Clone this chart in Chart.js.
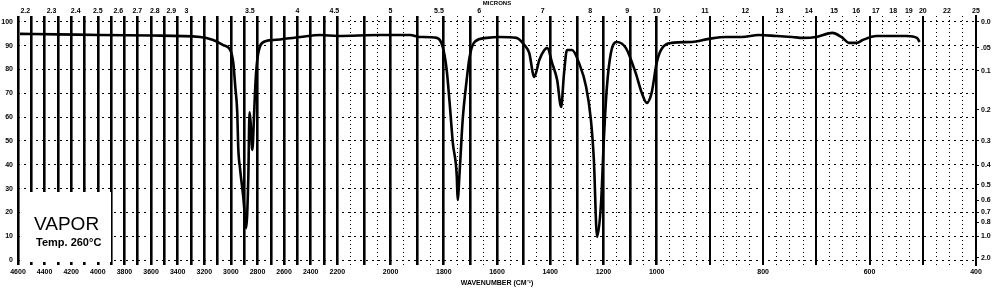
<!DOCTYPE html>
<html>
<head>
<meta charset="utf-8">
<script src="https://cdn.jsdelivr.net/npm/chart.js@4/dist/chart.umd.min.js"></script>
<style>
  body { margin: 0; background: #fff; }
  canvas { display: block; }
</style>
</head>
<body>
<canvas id="irChart" width="1000" height="290"></canvas>
<script>
// --- data (wavenumber cm-1 / % transmittance) ---
const wavenumbers = [4585, 4300, 3983, 3600, 3231, 3133, 3058, 3005, 2982, 2967, 2952, 2945, 2930, 2907, 2892, 2885,
  2869, 2860, 2852, 2839, 2825, 2817, 2802, 2764, 2681, 2478, 2328, 2200, 2039, 1927, 1890, 1826, 1804, 1789, 1778,
  1766, 1751, 1748, 1740, 1729, 1714, 1703, 1684, 1639, 1591, 1527, 1497, 1479, 1460, 1441, 1422, 1411, 1393, 1374,
  1359, 1348, 1337, 1318, 1292, 1265, 1247, 1236, 1224, 1209, 1198, 1187, 1172, 1150, 1116, 1079, 1056, 1037, 1019,
  1000, 992, 972, 934, 902, 870, 840, 808, 775, 745, 726, 700, 670, 653, 638, 624, 613, 587, 557, 530, 511, 506];
const transmittance = [95.0, 94.8, 94.5, 94.3, 93.7, 92.4, 90.3, 88.2, 82.8, 72.7, 61.8, 47.5, 37.8, 26.5, 16.8, 13.4,
  35.0, 62.0, 58.0, 46.2, 62.0, 72.7, 84.0, 91.2, 92.4, 93.7, 94.5, 94.1, 94.5, 94.5, 93.7, 93.3, 89.5, 79.8, 66.0,
  49.2, 34.9, 25.2, 37.8, 58.8, 75.6, 85.3, 91.6, 93.3, 93.7, 93.3, 90.3, 87.0, 76.9, 84.0, 88.2, 89.1, 82.8, 75.6,
  64.3, 78.6, 88.2, 88.2, 82.8, 72.7, 58.8, 42.0, 9.7, 23.9, 51.7, 72.7, 87.0, 91.6, 89.1, 78.6, 70.2, 66.0, 70.2,
  82.8, 88.2, 91.2, 91.6, 92.9, 93.7, 93.7, 94.5, 94.1, 93.7, 93.3, 93.7, 95.4, 93.7, 91.2, 91.2, 92.4, 94.1, 94.1,
  94.1, 93.3, 91.6];

// axis labels
const wavenumberTicks = [4600, 4400, 4200, 4000, 3800, 3600, 3400, 3200, 3000, 2800, 2600, 2400, 2200,
  2000, 1800, 1600, 1400, 1200, 1000, 800, 600, 400];
const micronTicks = [2.2, 2.3, 2.4, 2.5, 2.6, 2.7, 2.8, 2.9, 3, 3.5, 4, 4.5, 5, 5.5, 6, 7, 8, 9, 10,
  11, 12, 13, 14, 15, 16, 17, 18, 19, 20, 22, 25];
const percentTicks = [0, 10, 20, 30, 40, 50, 60, 70, 80, 90, 100];
const absorbanceTicks = [0, 0.05, 0.1, 0.2, 0.3, 0.4, 0.5, 0.6, 0.7, 0.8, 1.0, 2.0];
const absorbanceLabels = ['0.0', '.05', '0.1', '0.2', '0.3', '0.4', '0.5', '0.6', '0.7', '0.8', '1.0', '2.0'];

// chart paper: 3 equal-width panels with different cm-1 scale
const SEGMENTS = [[4600, 2200], [2200, 1000], [1000, 400]];

function waveToFrac(wn) {
  for (let i = 0; i < SEGMENTS.length; i++) {
    const a = SEGMENTS[i][0], b = SEGMENTS[i][1];
    if (wn >= b || i === SEGMENTS.length - 1) return (i + (a - wn) / (a - b)) / SEGMENTS.length;
  }
}
function fracToWave(f) {
  const t = f * SEGMENTS.length;
  const i = Math.min(SEGMENTS.length - 1, Math.max(0, Math.floor(t)));
  const a = SEGMENTS[i][0], b = SEGMENTS[i][1];
  return a - (t - i) * (a - b);
}

const BaseLinear = Chart.LinearScale || Chart.registry.getScale('linear');
class WavenumberScale extends BaseLinear {
  getPixelForValue(v) {
    if (v === null || v === undefined) return NaN;
    return this.getPixelForDecimal(waveToFrac(v));
  }
  getValueForPixel(p) {
    return fracToWave(this.getDecimalForPixel(p));
  }
}
WavenumberScale.id = 'wavenumber';
WavenumberScale.defaults = {};
Chart.register(WavenumberScale);

// every 100 cm-1 heavy line, dotted in between on the expanded panels
const majorLines = [];
for (let w = 4600; w >= 400; w -= 100) majorLines.push(w);
const minorLines = [];
for (let w = 2150; w > 1000; w -= 100) minorLines.push(w);
for (let w = 1000; w > 400; w -= 25) if (w % 100 !== 0) minorLines.push(w);

const tickFont = { family: 'Liberation Sans', size: 7, weight: 'bold' };
const fixH = h => (s => { s.height = h; });
const fixW = w => (s => { s.width = w; });
const setTicks = vals => (s => { s.ticks = vals.map(v => ({ value: v })); });

const labelBox = {
  id: 'labelBox',
  afterDraw(chart) {
    const ctx = chart.ctx;
    ctx.save();
    ctx.fillStyle = '#fff';
    ctx.fillRect(23, 192, 88, 70);
    ctx.fillStyle = '#000';
    ctx.textBaseline = 'alphabetic';
    ctx.font = '19px "Liberation Sans", Arial, sans-serif';
    ctx.fillText('VAPOR', 34, 230);
    ctx.font = 'bold 11px "Liberation Sans", Arial, sans-serif';
    ctx.fillText('Temp. 260°C', 36, 246);
    ctx.restore();
  }
};

const yMin = -2.1, yMax = 102.5;

new Chart(document.getElementById('irChart'), {
  type: 'line',
  data: {
    datasets: [{
      data: wavenumbers.map((w, i) => ({ x: w, y: transmittance[i] })),
      borderColor: '#000',
      borderWidth: 2.6,
      pointRadius: 0,
      cubicInterpolationMode: 'monotone',
      fill: false
    }]
  },
  options: {
    responsive: false,
    animation: false,
    layout: { padding: 0 },
    plugins: { legend: { display: false }, tooltip: { enabled: false } },
    scales: {
      x: {
        type: 'wavenumber', position: 'bottom', min: 400, max: 4600, bounds: 'data',
        afterBuildTicks: setTicks(wavenumberTicks), afterFit: fixH(25),
        grid: { display: false, drawTicks: false }, border: { display: false },
        ticks: { autoSkip: false, maxRotation: 0, padding: 3, color: '#000', font: tickFont,
          callback: v => String(v) },
        title: { display: true, text: 'WAVENUMBER (CM⁻¹)', color: '#000',
          font: { family: 'Liberation Sans', size: 7, weight: 'bold' }, padding: { top: 0, bottom: 3 } }
      },
      xTop: {
        type: 'wavenumber', position: 'top', min: 400, max: 4600, bounds: 'data',
        afterBuildTicks: setTicks(micronTicks.map(m => 10000 / m)), afterFit: fixH(16),
        grid: { display: false, drawTicks: false }, border: { display: false },
        ticks: { autoSkip: false, maxRotation: 0, padding: 1, color: '#000', font: tickFont,
          callback: (v, i) => String(micronTicks[i]) },
        title: { display: true, text: 'MICRONS', color: '#000',
          font: { family: 'Liberation Sans', size: 6, weight: 'bold' }, padding: 0 }
      },
      xMajor: {
        type: 'wavenumber', position: 'bottom', min: 400, max: 4600, bounds: 'data',
        afterBuildTicks: setTicks(majorLines), afterFit: fixH(0),
        ticks: { display: false }, border: { display: false },
        grid: { color: '#000', drawTicks: false,
          lineWidth: c => (c.tick && c.tick.value < 1000 ? 2 : 2.6) }
      },
      xMinor: {
        type: 'wavenumber', position: 'bottom', min: 400, max: 4600, bounds: 'data',
        afterBuildTicks: setTicks(minorLines), afterFit: fixH(0),
        ticks: { display: false },
        border: { display: false, dash: [1, 3] },
        grid: { color: '#000', lineWidth: 1, drawTicks: false }
      },
      y: {
        type: 'linear', position: 'left', min: yMin, max: yMax, bounds: 'data',
        afterBuildTicks: setTicks(percentTicks), afterFit: fixW(18),
        border: { display: false, dash: [2, 4] },
        grid: { color: '#000', lineWidth: 1, drawTicks: false },
        ticks: { padding: 5, color: '#000', font: tickFont }
      },
      yA: {
        type: 'linear', position: 'right', min: yMin, max: yMax, bounds: 'data',
        afterBuildTicks: setTicks(absorbanceTicks.map(a => 100 * Math.pow(10, -a))), afterFit: fixW(24),
        border: { display: true, color: '#000', width: 2 },
        grid: { drawOnChartArea: false, color: '#000', tickLength: 3 },
        ticks: { padding: 2, color: '#000', font: tickFont, callback: (v, i) => absorbanceLabels[i] }
      }
    }
  },
  plugins: [labelBox]
});
</script>
</body>
</html>
